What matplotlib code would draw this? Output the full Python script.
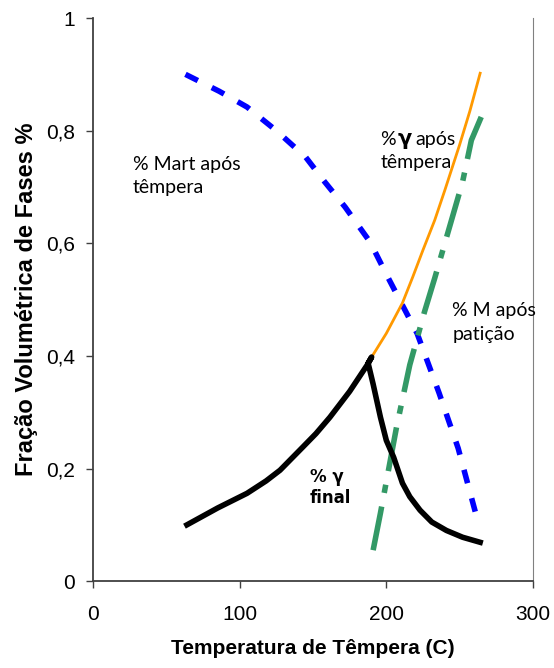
import numpy as np
import matplotlib.pyplot as plt
from matplotlib.ticker import FuncFormatter

# % martensita após têmpera
t_mart = [63, 86, 105, 125, 145, 158, 172, 189, 200, 209, 221, 236, 249, 261]
f_mart = [0.90, 0.87, 0.842, 0.80, 0.753, 0.709, 0.664, 0.602, 0.545, 0.50, 0.44, 0.334, 0.236, 0.12]

# % gama após têmpera
t_gama = [190, 200, 211, 218, 225, 233, 240, 250, 257, 264]
f_gama = [0.398, 0.44, 0.494, 0.54, 0.588, 0.641, 0.695, 0.775, 0.835, 0.902]

# % M após partição
t_mpart = [191, 196, 207, 216, 226, 233, 252, 258, 265]
f_mpart = [0.055, 0.121, 0.274, 0.384, 0.478, 0.538, 0.709, 0.783, 0.826]

# % gama final
t_final = [64, 85, 105, 118, 127.5, 143, 152, 161.5, 175, 187, 190,
           187.6, 191, 196, 200, 205, 211, 216, 223, 231, 241, 252, 264]
f_final = [0.10, 0.13, 0.156, 0.178, 0.197, 0.238, 0.262, 0.291, 0.337, 0.384, 0.398,
           0.387, 0.35, 0.291, 0.25, 0.22, 0.174, 0.15, 0.126, 0.105, 0.09, 0.078, 0.069]

fig = plt.figure(figsize=(5.54, 6.68), dpi=100)
ax = fig.add_axes([0.168, 0.130, 0.794, 0.843])

ax.plot(t_mart, f_mart, color='#0000FF', lw=4, dashes=(2.5, 2.8), solid_capstyle='butt')
ax.plot(t_gama, f_gama, color='#FF9900', lw=2)
ax.plot(t_mpart, f_mpart, color='#339966', lw=4, dashes=(8, 2.5, 1.5, 2.5))
ax.plot(t_final, f_final, color='black', lw=4, solid_joinstyle='round')

lab_font = ['Lato', 'DejaVu Sans']
ax.text(27, 0.73, '% Mart após', fontsize=14, family=lab_font)
ax.text(27, 0.689, 'têmpera', fontsize=14, family=lab_font)
ax.text(196, 0.774, '%', fontsize=14, family=lab_font)
ax.text(208, 0.774, 'γ', fontsize=15, family='DejaVu Sans', fontweight='bold')
ax.text(220, 0.774, 'após', fontsize=14, family=lab_font)
ax.text(196, 0.733, 'têmpera', fontsize=14, family=lab_font)
ax.text(245, 0.47, '% M após', fontsize=14, family=lab_font)
ax.text(245, 0.428, 'patição', fontsize=14, family=lab_font)
ax.text(148, 0.176, '% γ', fontsize=12, family='DejaVu Sans', fontweight='bold')
ax.text(148, 0.139, 'final', fontsize=12, family='DejaVu Sans', fontweight='bold')

ax.set_xlim(0, 300)
ax.set_ylim(0, 1)
ax.set_xticks([0, 100, 200, 300])
ax.set_yticks([0, 0.2, 0.4, 0.6, 0.8, 1])
ax.yaxis.set_major_formatter(FuncFormatter(lambda v, p: ('%g' % v).replace('.', ',')))

for lbl in ax.get_xticklabels() + ax.get_yticklabels():
    lbl.set_family('Liberation Sans')
    lbl.set_fontsize(15)
ax.tick_params(axis='x', direction='out', length=5, width=1, color='#404040', pad=12)
ax.tick_params(axis='y', direction='out', length=5, width=1, color='#404040', pad=8)

ax.spines['top'].set_visible(False)
ax.spines['left'].set_color('#404040')
ax.spines['bottom'].set_color('#404040')
ax.spines['right'].set_color('#808080')
ax.spines['left'].set_linewidth(1.3)
ax.spines['bottom'].set_linewidth(1.3)

ax.set_xlabel('Temperatura de Têmpera (C)', fontsize=15, fontweight='bold',
              family='Liberation Sans', labelpad=11)
ax.set_ylabel('Fração Volumétrica de Fases %', fontsize=17, fontweight='bold',
              family='Liberation Sans', labelpad=6)

fig.savefig('out.png', dpi=100)
